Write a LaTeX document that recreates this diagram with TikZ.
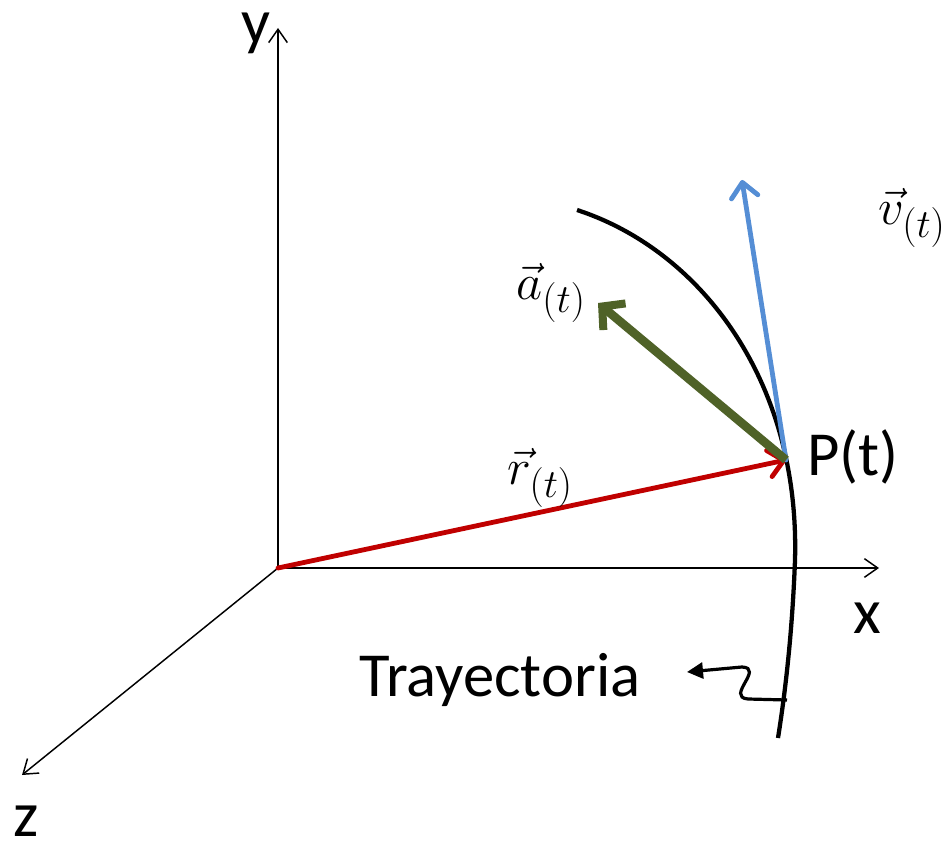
\RequirePackage{fix-cm}
\documentclass[tikz,border=0pt]{standalone}
\usepackage{fontspec}
\setmainfont{Carlito}
\usetikzlibrary{arrows.meta}
\newcommand{\subt}{\raisebox{0pt}{\fontsize{30}{34}\selectfont$(t)$}}
\begin{document}
\begin{tikzpicture}[x=0.75pt,y=-0.75pt,
  axis/.style={line width=1.1pt,-{Straight Barb[length=10pt,width=14pt,line width=1.1pt]}},
  lbl/.style={font=\fontsize{48}{56}\selectfont,inner sep=0pt},
  txt/.style={font=\fontsize{47}{54}\selectfont,inner sep=0pt},
  vlbl/.style={font=\fontsize{38}{44}\selectfont,inner sep=0pt}]
\useasboundingbox (0,0) rectangle (949,848);
\coordinate (O) at (278,568);
\coordinate (Y) at (278,28);
\coordinate (X) at (879,568);
\coordinate (Z) at (22,775);
\draw[axis] (O) -- (Y);
\draw[axis] (O) -- (X);
\draw[axis] (O) -- (Z);
\node[lbl] (ly) at (256,33) {y};
\node[lbl] (lx) at (867,618) {x};
\node[lbl] (lz) at (26,821) {z};
% trajectory
\draw[line width=3.2pt] (577,210) .. controls (700,250) and (800,380) .. (795,560)
  .. controls (792,640) and (784,700) .. (778,738);
\coordinate (P) at (786,460);
\coordinate (C) at (787,700);
% vectors
\draw[line width=3.6pt,color={rgb,255:red,192;green,0;blue,0},line cap=round,
  -{Straight Barb[length=11pt,width=20pt,line width=3.6pt,round]}] (O) -- (P);
\draw[line width=3.6pt,color={rgb,255:red,85;green,142;blue,213},line cap=round,
  -{Straight Barb[length=11pt,width=20pt,line width=3.6pt,round]}] (P) -- (742,180);
\draw[line width=6.5pt,color={rgb,255:red,79;green,98;blue,40},
  -{Straight Barb[length=12pt,width=26pt,line width=6pt]}] (P) -- (598,303);
\node[vlbl] (la) at (551,293) {$\vec{a}_{\subt}$};
\node[vlbl] (lv) at (912,218) {$\vec{v}_{\subt}$};
\node[vlbl] (lr) at (540,478) {$\vec{r}_{\subt}$};
\node[txt,anchor=west] (lp) at (807,457) {P(t)};
\node[txt] (lt) at (500,680) {Trayectoria};
\coordinate (T) at (687,672);
\draw[line width=2.4pt,-{Triangle[length=12pt,width=12pt]}] (C) -- (748,699)
  .. controls (725,697) and (765,668) .. (742,667) -- (T);
\end{tikzpicture}
\end{document}
